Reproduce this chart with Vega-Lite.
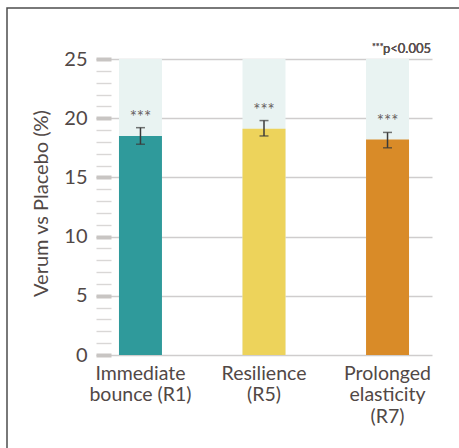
{
  "$schema": "https://vega.github.io/schema/vega-lite/v6.json",
  "width": 456,
  "height": 444,
  "autosize": "none",
  "padding": {"left": 7, "top": 8, "right": -4, "bottom": -4},
  "background": "white",
  "data": {
    "values": [
      {"measure": "Immediate bounce (R1)", "value": 18.5, "lo": 17.8, "hi": 19.2},
      {"measure": "Resilience (R5)", "value": 19.1, "lo": 18.5, "hi": 19.8},
      {"measure": "Prolonged elasticity (R7)", "value": 18.2, "lo": 17.5, "hi": 18.8}
    ]
  },
  "encoding": {
    "x": {
      "field": "measure",
      "type": "nominal",
      "sort": null,
      "title": null,
      "scale": {"range": [89, 425], "paddingInner": 0.652, "paddingOuter": 0.186},
      "axis": {
        "orient": "bottom",
        "offset": -97,
        "domain": false,
        "ticks": false,
        "tickSize": 0,
        "grid": false,
        "labelAngle": 0,
        "labelPadding": 24,
        "labelBaseline": "alphabetic",
        "labelFont": "Lato",
        "labelFontSize": 19.5,
        "labelColor": "#514846",
        "labelLineHeight": 21.5,
        "labelLimit": 0,
        "labelOverlap": false,
        "labelExpr": "datum.label == 'Immediate bounce (R1)' ? ['Immediate', 'bounce (R1)'] : split(datum.label, ' ')"
      }
    }
  },
  "layer": [
    {
      "mark": {"type": "bar", "color": "#e9f3f2"},
      "encoding": {
        "y": {
          "datum": 25,
          "type": "quantitative",
          "title": "Verum vs Placebo (%)",
          "scale": {"domain": [0, 25], "range": [347, 51], "nice": false}
        }
      }
    },
    {
      "mark": {"type": "bar"},
      "encoding": {
        "y": {
          "field": "value",
          "type": "quantitative",
          "title": "Verum vs Placebo (%)",
          "axis": {
            "values": [0, 1, 2, 3, 4, 5, 6, 7, 8, 9, 10, 11, 12, 13, 14, 15, 16, 17, 18, 19, 20, 21, 22, 23, 24, 25],
            "tickCount": 30,
            "offset": -104,
            "domain": false,
            "tickSize": 15,
            "tickWidth": {"condition": {"test": "datum.value % 5 === 0", "value": 4}, "value": 1.4},
            "tickColor": {"condition": {"test": "datum.value % 5 === 0", "value": "#c8c5c3"}, "value": "#d9d7d6"},
            "grid": true,
            "gridColor": "#cfcdcd",
            "gridWidth": 1.5,
            "gridOpacity": {"condition": {"test": "datum.value % 5 === 0", "value": 1}, "value": 0},
            "labelExpr": "datum.value % 5 === 0 ? datum.label : ''",
            "labelPadding": 9,
            "labelFont": "Lato",
            "labelFontSize": 20,
            "labelColor": "#514846",
            "labelOverlap": false,
            "titleFont": "Lato",
            "titleFontSize": 20,
            "titleFontWeight": "normal",
            "titleColor": "#514846",
            "titleBaseline": "alphabetic",
            "titleX": -64,
            "titleY": 195
          }
        },
        "color": {
          "field": "measure",
          "type": "nominal",
          "legend": null,
          "scale": {
            "domain": ["Immediate bounce (R1)", "Resilience (R5)", "Prolonged elasticity (R7)"],
            "range": ["#2f9a9b", "#edd35b", "#d98b28"]
          }
        }
      }
    },
    {
      "mark": {"type": "errorbar", "ticks": true, "size": 9, "thickness": 1.5, "color": "#3a3a3a"},
      "encoding": {
        "y": {"field": "lo", "type": "quantitative", "title": "Verum vs Placebo (%)"},
        "y2": {"field": "hi"}
      }
    },
    {
      "mark": {"type": "text", "font": "Lato", "fontSize": 17, "color": "#676060", "baseline": "alphabetic", "dy": -5},
      "encoding": {
        "y": {"field": "hi", "type": "quantitative", "title": "Verum vs Placebo (%)"},
        "text": {"value": "***"}
      }
    },
    {
      "mark": {"type": "text", "font": "Lato", "fontSize": 13, "color": "#5a5150", "align": "right", "baseline": "alphabetic", "dx": 43.5, "dy": -6.5},
      "encoding": {
        "x": {"datum": "Prolonged elasticity (R7)"},
        "y": {"datum": 25, "type": "quantitative", "title": "Verum vs Placebo (%)"},
        "text": {"value": "p<0.005"}
      }
    },
    {
      "mark": {"type": "text", "font": "Lato", "fontSize": 9, "color": "#5a5150", "align": "right", "baseline": "alphabetic", "dx": -4, "dy": -9},
      "encoding": {
        "x": {"datum": "Prolonged elasticity (R7)"},
        "y": {"datum": 25, "type": "quantitative", "title": "Verum vs Placebo (%)"},
        "text": {"value": "***"}
      }
    }
  ],
  "config": {
    "view": {"stroke": "#4d4d4d", "strokeWidth": 1.5}
  }
}
